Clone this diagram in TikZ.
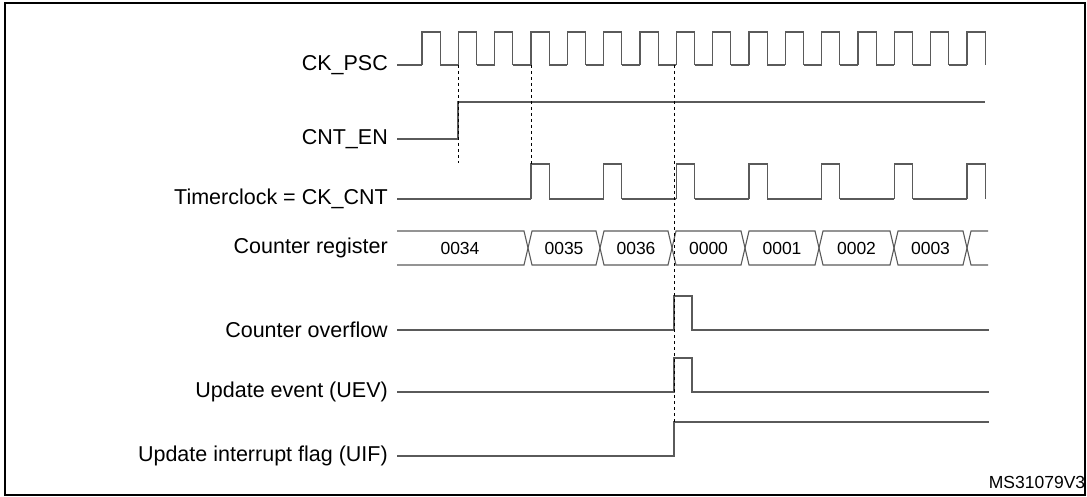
\documentclass[tikz,border=0pt]{standalone}
\usepackage{fontspec}
\setmainfont{Liberation Sans}
\definecolor{wave}{HTML}{5A5A5A}
\tikzset{
  sig/.style={draw=wave, line width=1.1pt},
  lbl/.style={anchor=east, inner sep=0pt, font=\fontsize{21.5}{23}\selectfont},
  val/.style={inner sep=0pt, font=\fontsize{17.5}{19}\selectfont},
  edgemark/.style={draw=black, dashed, line width=0.7pt}
}
\begin{document}
\begin{tikzpicture}[x=1pt, y=-1pt]
\useasboundingbox (0,0) rectangle (1087,497);
\draw[line width=1.6pt] (5,3) rectangle (1085,495);
%
\node[lbl] (ckpsc) at (388,65) {CK\_PSC};
\node[lbl] (cnten) at (388,139) {CNT\_EN};
\node[lbl] (tclk) at (388,199) {Timerclock = CK\_CNT};
\node[lbl] (cntreg) at (388,248) {Counter register};
\node[lbl] (ovf) at (388,330) {Counter overflow};
\node[lbl] (uev) at (388,392) {Update event (UEV)};
\node[lbl] (uif) at (388,456) {Update interrupt flag (UIF)};
\node[val] (msref) at (1037,482) {MS31079V3};
%
% CK_PSC
\draw[sig] (397,65) -- (422,65);
\foreach \k in {0,...,15}{
  \pgfmathsetmacro\r{422+36.33*\k}
  \pgfmathsetmacro\f{\r+18.2}
  \pgfmathsetmacro\n{\r+36.33}
  \draw[sig] (\r,65) -- (\r,32) -- (\f,32) -- (\f,65);
  \ifnum\k<15 \draw[sig] (\f,65) -- (\n,65); \fi
}
%
% CNT_EN
\draw[sig] (397,139) -- (458,139) -- (458,102) -- (985,102);
%
% Timerclock
\draw[sig] (397,199) -- (531,199);
\foreach \k in {3,5,...,15}{
  \pgfmathsetmacro\r{422+36.33*\k}
  \pgfmathsetmacro\f{\r+18.2}
  \pgfmathsetmacro\n{\r+72.66}
  \draw[sig] (\r,199) -- (\r,164) -- (\f,164) -- (\f,199);
  \ifnum\k<15 \draw[sig] (\f,199) -- (\n,199); \fi
}
%
% Counter register
\draw[sig] (397,231) -- (524,231) -- (528,248) -- (524,265) -- (397,265);
\foreach \a/\b/\v in {528/600/0035, 600/672/0036, 672/745/0000,
    745/819/0001, 819/894/0002, 894/967/0003}{
  \draw[sig] (\a,248) -- (\a+4,231) -- (\b-4,231) -- (\b,248)
    -- (\b-4,265) -- (\a+4,265) -- cycle;
  \node[val] at ({(\a+\b)/2},248) {\v};
}
\draw[sig] (988,231) -- (971,231) -- (967,248) -- (971,265) -- (988,265);
\node[val] at (460,248) {0034};
%
% Counter overflow, UEV, UIF
\draw[sig] (397,330) -- (674,330) -- (674,296) -- (692,296) -- (692,330) -- (989,330);
\draw[sig] (397,392) -- (674,392) -- (674,358) -- (692,358) -- (692,392) -- (989,392);
\draw[sig] (397,456) -- (674,456) -- (674,422) -- (989,422);
%
% markers
\draw[edgemark] (458,65) -- (458,163);
\draw[edgemark] (531,65) -- (531,164);
\draw[edgemark] (674,65) -- (674,422);
\end{tikzpicture}
\end{document}
